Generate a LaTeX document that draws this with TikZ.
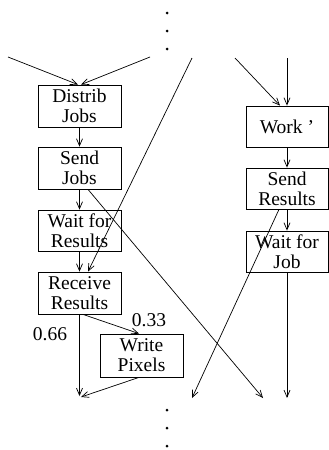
\documentclass[tikz,border=0pt]{standalone}
\usepackage{fontspec}
\setmainfont{Liberation Serif}
\usetikzlibrary{arrows.meta}
\begin{document}
\begin{tikzpicture}[x=1pt,y=-1pt,
  every node/.style={font=\fontsize{19.5}{20}\selectfont},
  box/.style={draw,line width=0.8pt,minimum width=83pt,minimum height=42pt,inner sep=0pt,align=center},
  arr/.style={line width=0.7pt,-{Straight Barb[length=7pt,width=6pt]}},
  lbl/.style={inner sep=0pt}]
\useasboundingbox (0,0) rectangle (329,450);
% dots
\foreach \y in {13,31,49,410,428,446} \fill (167,\y) circle (1.5pt);
% left column
\node[box] (dj) at (79.5,106) {Distrib\\Jobs};
\node[box] (sj) at (79.5,168) {Send\\Jobs};
\node[box,minimum height=41pt] (wr) at (79.5,230.5) {Wait for\\Results};
\node[box] (rr) at (79.5,293) {Receive\\Results};
\node[box,minimum height=43pt] (wp) at (141.5,355.5) {Write\\Pixels};
% right column
\node[box,minimum width=82pt,minimum height=41pt] (wk) at (287,126.5) {Work '};
\node[box,minimum width=82pt,minimum height=41pt] (sr) at (287,188.5) {Send\\Results};
\node[box,minimum width=82pt,minimum height=41pt] (wj) at (287,251.5) {Wait for\\Job};
% free ends
\coordinate (a1) at (8,57);
\coordinate (a2) at (150,57);
\coordinate (a3) at (192,58);
\coordinate (a4) at (235,58);
\coordinate (a5) at (287,58);
\coordinate (b1) at (263,398);
\coordinate (b2) at (79.5,396);
\coordinate (b3) at (81,397);
\coordinate (b4) at (192,398);
\coordinate (b5) at (287,398);
% connectors
\draw[arr] (a1) -- ([xshift=-1.5pt]dj.north);
\draw[arr] (a2) -- ([xshift=1.5pt]dj.north);
\draw[arr] (a3) -- ([xshift=8.5pt]rr.north);
\draw[arr] (a4) -- ([xshift=-7pt]wk.north);
\draw[arr] (a5) -- (wk.north);
\draw[arr] (dj.south) -- (sj.north);
\draw[arr] (sj.south) -- (wr.north);
\draw[arr] (wr.south) -- (rr.north);
\draw[arr] ([xshift=8.5pt]sj.south) -- (b1);
\draw[arr] (rr.south) -- (b2);
\draw[arr] ([xshift=3.5pt]rr.south) -- ([xshift=-2.5pt]wp.north);
\draw[arr] ([xshift=-2.5pt]wp.south) -- (b3);
\draw[arr] (wk.south) -- (sr.north);
\draw[arr] (sr.south) -- (wj.north);
\draw[arr] ([xshift=-8pt]sr.south) -- (b4);
\draw[arr] (wj.south) -- (b5);
% labels
\node[lbl] (l33) at (149,320) {0.33};
\node[lbl] (l66) at (50,334) {0.66};
\end{tikzpicture}
\end{document}
